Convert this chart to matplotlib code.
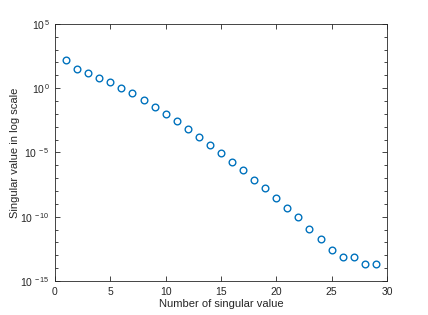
import numpy as np
import matplotlib
matplotlib.use('Agg')
from matplotlib import pyplot as plt
from matplotlib import ticker

# singular value index and log10 of values
idx = list(range(1, 30))
log_sv = [2.2, 1.5, 1.19, 0.82, 0.46, 0.0, -0.4, -0.94, -1.46, -2.03,
          -2.55, -3.17, -3.77, -4.42, -5.03, -5.74, -6.36, -7.14, -7.79, -8.56,
          -9.32, -10.04, -10.93, -11.73, -12.56, -13.13, -13.13, -13.68, -13.70]
sv = [10 ** v for v in log_sv]

yticks = [1e-15, 1e-10, 1e-5, 1e0, 1e5]
ytick_labels = ['10$^{\\,-15}$', '10$^{\\,-10}$', '10$^{\\,-5}$', '10$^{\\,0}$', '10$^{\\,5}$']
xticks = [0, 5, 10, 15, 20, 25, 30]

plt.rcParams['font.family'] = ['Liberation Sans', 'DejaVu Sans']
plt.rcParams['mathtext.fontset'] = 'custom'
plt.rcParams['mathtext.rm'] = 'Liberation Sans'
plt.rcParams['mathtext.default'] = 'rm'

axcol = '#262626'
fig = plt.figure(figsize=(4.28, 3.15), dpi=100)
ax = fig.add_axes([0.1285, 0.108, 0.7755, 0.816])
ax.semilogy(idx, sv, 'o', mfc='none', mec='#0072BD', ms=4.8, mew=1.0)

ax.set_xlim(0, 30)
ax.set_ylim(1e-15, 1e5)
ax.set_xticks(xticks)
ax.set_yticks(yticks)
ax.set_yticklabels(ytick_labels)
ax.yaxis.set_minor_locator(ticker.FixedLocator([10.0 ** k for k in range(-15, 6)]))
ax.yaxis.set_minor_formatter(ticker.NullFormatter())

for s in ax.spines.values():
    s.set_color(axcol)
    s.set_linewidth(0.6)
ax.tick_params(which='both', direction='in', top=True, right=True,
               color=axcol, labelcolor=axcol, labelsize=7.5, width=0.6)
ax.tick_params(which='major', length=3.5)
ax.tick_params(which='minor', length=2.2)
ax.tick_params(axis='x', pad=4)

ax.set_xlabel('Number of singular value', fontsize=8, color=axcol, labelpad=2)
ax.set_ylabel('Singular value in log scale', fontsize=8, color=axcol, labelpad=0)

plt.savefig('out.png', dpi=100)
